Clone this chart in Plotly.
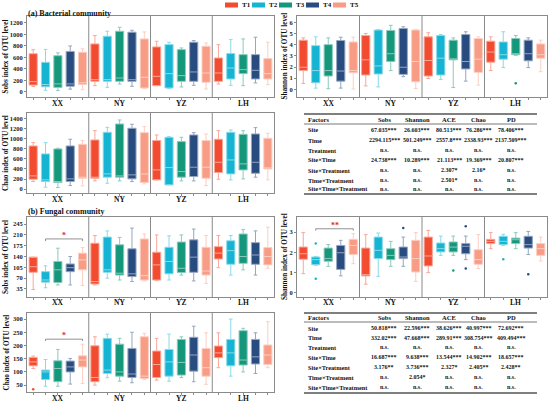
import plotly.graph_objects as go

W, H = 550, 406

# ---------------- data ----------------
SITES = ["XX", "NY", "YZ", "LH"]
TREATMENTS = ["T1", "T2", "T3", "T4", "T5"]

# order of every list: XX T1..T5, NY T1..T5, YZ T1..T5, LH T1..T5
BSOBS_LO = [95, 30, 25, 50, 40, 110, 81, 139, 99, 58, 110, 58, 87, 116, 52, 139, 116, 110, 157, 128]
BSOBS_Q1 = [120, 90, 80, 100, 130, 185, 185, 185, 185, 70, 110, 70, 185, 185, 168, 185, 226, 319, 226, 226]
BSOBS_MED = [180, 130, 140, 140, 160, 214, 214, 243, 214, 255, 272, 319, 284, 348, 330, 330, 417, 388, 377, 319]
BSOBS_Q3 = [665, 515, 630, 705, 690, 835, 968, 1055, 1038, 922, 783, 823, 736, 864, 794, 591, 667, 649, 649, 580]
BSOBS_HI = [735, 740, 680, 800, 750, 980, 1055, 1125, 1072, 1043, 881, 864, 765, 893, 852, 823, 910, 922, 951, 864]

BCHAO_LO = [151, 39, 33, 72, 66, 164, 118, 164, 151, 105, 184, 85, 164, 164, 72, 197, 184, 204, 237, 184]
BCHAO_Q1 = [197, 151, 131, 151, 217, 217, 237, 237, 204, 131, 184, 85, 237, 250, 217, 329, 302, 381, 315, 401]
BCHAO_MED = [263, 184, 151, 204, 237, 237, 302, 263, 283, 302, 381, 427, 348, 434, 434, 532, 578, 500, 532, 420]
BCHAO_Q3 = [854, 697, 795, 854, 887, 973, 1124, 1288, 1203, 1117, 960, 1025, 940, 1071, 960, 986, 1124, 1084, 1091, 1006]
BCHAO_HI = [920, 920, 808, 986, 960, 1157, 1222, 1367, 1282, 1236, 1071, 1038, 1025, 1117, 1091, 1157, 1170, 1157, 1216, 1104]

BSHAN_LO = [0.52, 0.10, 0.05, 0.10, 0.02, 0.30, 0.21, 1.68, 1.13, 0.06, 0.97, 0.88, 0.15, 0.73, 0.37, 1.68, 1.95, 3.05, 1.95, 1.58]
BSHAN_Q1 = [1.68, 0.58, 1.19, 0.73, 1.49, 1.28, 1.37, 2.50, 1.34, 0.67, 1.19, 1.28, 2.65, 1.83, 1.52, 2.44, 2.71, 3.11, 2.56, 2.80]
BSHAN_MED = [1.98, 1.68, 1.68, 1.64, 1.68, 2.65, 2.10, 3.20, 1.98, 2.50, 2.59, 2.80, 2.71, 2.50, 2.71, 3.35, 3.11, 3.20, 3.20, 3.11]
BSHAN_Q3 = [4.42, 3.93, 4.02, 4.39, 4.26, 4.84, 5.33, 5.30, 5.48, 5.33, 4.72, 4.84, 4.42, 4.93, 4.57, 4.33, 4.26, 4.57, 4.42, 4.08]
BSHAN_HI = [4.63, 4.72, 4.63, 4.69, 4.69, 5.03, 5.39, 5.76, 5.63, 5.39, 5.09, 4.93, 4.63, 5.18, 4.72, 4.72, 5.18, 4.84, 4.63, 4.42]

FSOBS_LO = [33, 39, 48, 48, 46, 48, 70, 64, 59, 61, 62, 64, 80, 61, 53, 104, 80, 97, 80, 102]
FSOBS_Q1 = [89, 57, 56, 91, 97, 51, 89, 80, 75, 64, 64, 84, 88, 89, 80, 132, 115, 118, 115, 113]
FSOBS_MED = [107, 64, 97, 104, 129, 59, 97, 86, 84, 78, 113, 124, 102, 138, 93, 151, 159, 140, 145, 140]
FSOBS_Q3 = [138, 91, 124, 116, 151, 183, 203, 178, 165, 197, 154, 170, 187, 194, 170, 172, 191, 213, 185, 169]
FSOBS_HI = [138, 110, 167, 140, 169, 208, 223, 202, 232, 213, 210, 207, 210, 229, 208, 208, 208, 227, 223, 235]

FSHAN_LO = [0.95, 1.36, 1.31, 0.84, 1.44, 0.43, 0.82, 1.31, 1.31, 0.57, 1.00, 1.85, 1.85, 1.64, 1.20, 2.18, 2.34, 2.18, 1.89, 1.57]
FSHAN_Q1 = [1.66, 1.39, 1.56, 1.16, 1.89, 0.84, 1.69, 1.64, 1.69, 1.03, 1.33, 2.02, 2.02, 1.93, 1.41, 2.43, 2.38, 2.43, 2.21, 1.85]
FSHAN_MED = [1.93, 1.64, 1.69, 1.98, 2.34, 0.90, 2.10, 1.85, 1.77, 1.69, 1.82, 2.18, 2.26, 2.30, 1.64, 2.54, 2.54, 2.62, 2.38, 2.18]
FSHAN_Q3 = [2.26, 1.77, 2.21, 2.34, 2.64, 2.21, 2.75, 2.18, 2.26, 2.59, 2.75, 2.46, 2.51, 2.43, 2.13, 2.64, 2.79, 2.70, 2.79, 2.43]
FSHAN_HI = [2.97, 1.80, 2.38, 2.59, 2.92, 2.87, 2.95, 2.54, 2.75, 2.97, 3.08, 2.80, 2.80, 2.80, 2.87, 2.97, 2.89, 2.97, 3.03, 2.75]

FCHAO_LO = [113, 46, 46, 54, 56, 50, 78, 65, 59, 71, 69, 65, 79, 63, 53, 116, 84, 100, 94, 116]
FCHAO_Q1 = [123, 71, 63, 100, 119, 63, 94, 84, 79, 75, 79, 84, 88, 103, 84, 154, 123, 126, 130, 128]
FCHAO_MED = [138, 100, 113, 119, 145, 79, 107, 100, 92, 84, 128, 138, 136, 164, 116, 172, 172, 145, 157, 164]
FCHAO_Q3 = [155, 107, 142, 141, 161, 199, 227, 205, 189, 233, 179, 185, 223, 231, 189, 198, 223, 256, 223, 202]
FCHAO_HI = [160, 147, 185, 151, 205, 233, 243, 227, 250, 246, 227, 243, 233, 273, 248, 248, 300, 265, 248, 290]

# outliers: panel number (1..6), box index (0..19), value
OUT_PANEL = [3, 5, 5, 5, 5, 5, 5, 5, 5, 6]
OUT_INDEX = [17, 1, 1, 8, 12, 13, 13, 16, 18, 0]
OUT_VALUE = [0.55, 2.43, 0.70, 3.20, 1.11, 3.28, 1.20, 1.66, 0.92, 34]

# significance brackets
SIG_PANEL = [4, 5, 6]
SIG_FROM = [1, 1, 1]
SIG_TO = [4, 4, 4]
SIG_Y = [197, 3.16, 224]
SIG_TICK = [190, 3.07, 217]
SIG_LABEL = ["*", "**", "*"]

# ANOVA tables
FACTORS = ["Site", "Time", "Treatment", "Site×Time", "Site×Treatment", "Time×Treatment", "Site×Time×Treatment"]
INDICES = ["Sobs", "Shannon", "ACE", "Chao", "PD"]
BACT_SITE = ["67.035***", "26.603***", "80.513***", "76.286***", "78.406***"]
BACT_TIME = ["2294.115***", "501.249***", "2557.8***", "2338.93***", "2137.509***"]
BACT_TRT = ["n.s.", "n.s.", "n.s.", "n.s.", "n.s."]
BACT_SXT = ["24.738***", "10.289***", "21.113***", "19.369***", "20.807***"]
BACT_SXTR = ["n.s.", "n.s.", "2.307*", "2.16*", "n.s."]
BACT_TXTR = ["n.s.", "n.s.", "2.501*", "n.s.", "n.s."]
BACT_SXTXTR = ["n.s.", "n.s.", "n.s.", "n.s.", "n.s."]
FUNG_SITE = ["50.818***", "22.596***", "38.626***", "40.997***", "72.692***"]
FUNG_TIME = ["332.02***", "47.668***", "289.91***", "308.754***", "409.494***"]
FUNG_TRT = ["n.s.", "n.s.", "n.s.", "n.s.", "n.s."]
FUNG_SXT = ["16.687***", "9.638***", "13.544***", "14.902***", "18.657***"]
FUNG_SXTR = ["3.176**", "3.736***", "2.327*", "2.405**", "2.428**"]
FUNG_TXTR = ["n.s.", "2.054*", "n.s.", "n.s.", "n.s."]
FUNG_SXTXTR = ["n.s.", "n.s.", "n.s.", "n.s.", "n.s."]

# ---------------- styles ----------------
COLORS = ["#F24B30", "#14B4D2", "#14977A", "#284B80", "#F99C85"]
LIGHT = ["#F9A799", "#8ADAE9", "#8ACBBD", "#94A6C0", "#FCCEC2"]
FONT = "Liberation Serif"
FRAME = "#8a8a8a"


def fx(px):
    return px / W


def fy(py):
    return 1 - py / H


def ann(x, y, text, size, xref="paper", yref="paper", xanchor="center", yanchor="middle", **kw):
    d = dict(x=x, y=y, xref=xref, yref=yref, text=text, showarrow=False,
             xanchor=xanchor, yanchor=yanchor,
             font=dict(family=FONT, size=size, color=kw.pop("color", "#111")))
    d.update(kw)
    return d


PANELS = [
    dict(stats=(BSOBS_LO, BSOBS_Q1, BSOBS_MED, BSOBS_Q3, BSOBS_HI), rng=[-87, 1320],
         ticks=[0, 200, 400, 600, 800, 1000, 1200], xpx=(27, 274), ypx=(16, 97),
         title="Sobs index of OTU level", tx=6, lab_y=103.5),
    dict(stats=(BCHAO_LO, BCHAO_Q1, BCHAO_MED, BCHAO_Q3, BCHAO_HI), rng=[-75, 1505],
         ticks=[0, 200, 400, 600, 800, 1000, 1200, 1400], xpx=(27, 274), ypx=(113, 193),
         title="Chao index of OTU level", tx=6, lab_y=199.5),
    dict(stats=(BSHAN_LO, BSHAN_Q1, BSHAN_MED, BSHAN_Q3, BSHAN_HI), rng=[-0.7, 6.6],
         ticks=[0, 1, 2, 3, 4, 5, 6], xpx=(297, 547), ypx=(16, 97),
         title="Shannon index of OTU level", tx=285, lab_y=103.5),
    dict(stats=(FSOBS_LO, FSOBS_Q1, FSOBS_MED, FSOBS_Q3, FSOBS_HI), rng=[9, 268],
         ticks=[35, 70, 105, 140, 175, 210, 245], xpx=(27, 274), ypx=(217, 297),
         title="Sobs index of OTU level", tx=6, lab_y=302.5),
    dict(stats=(FSHAN_LO, FSHAN_Q1, FSHAN_MED, FSHAN_Q3, FSHAN_HI), rng=[-0.2, 3.74],
         ticks=[0, 1, 2, 3], xpx=(297, 547), ypx=(217, 297),
         title="Shannon index of OTU level", tx=285, lab_y=302.5),
    dict(stats=(FCHAO_LO, FCHAO_Q1, FCHAO_MED, FCHAO_Q3, FCHAO_HI), rng=[24, 323],
         ticks=[50, 100, 150, 200, 250, 300], xpx=(27, 274), ypx=(313, 392),
         title="Chao index of OTU level", tx=6, lab_y=398.5),
]

fig = go.Figure()
shapes = []
annotations = []
layout = {}

for p, cfg in enumerate(PANELS, start=1):
    lo, q1, med, q3, hi = cfg["stats"]
    xa = "x" if p == 1 else f"x{p}"
    ya = "y" if p == 1 else f"y{p}"
    for t in range(5):
        idx = [g * 5 + t for g in range(4)]
        fig.add_trace(go.Box(
            x=idx, q1=[q1[i] for i in idx], median=[med[i] for i in idx],
            q3=[q3[i] for i in idx], lowerfence=[lo[i] for i in idx],
            upperfence=[hi[i] for i in idx],
            fillcolor=COLORS[t], line=dict(color=LIGHT[t], width=1),
            width=0.66, whiskerwidth=0.45, boxpoints=False,
            xaxis=xa, yaxis=ya, showlegend=False, hoverinfo="skip"))
        ox = [OUT_INDEX[k] for k in range(len(OUT_PANEL)) if OUT_PANEL[k] == p and OUT_INDEX[k] % 5 == t]
        oy = [OUT_VALUE[k] for k in range(len(OUT_PANEL)) if OUT_PANEL[k] == p and OUT_INDEX[k] % 5 == t]
        if ox:
            fig.add_trace(go.Scatter(x=ox, y=oy, mode="markers",
                                     marker=dict(size=2.5, color=COLORS[t]),
                                     xaxis=xa, yaxis=ya, showlegend=False, hoverinfo="skip"))
    x0, x1 = cfg["xpx"]
    y0, y1 = cfg["ypx"]
    key = "" if p == 1 else str(p)
    layout[f"xaxis{key}"] = dict(
        domain=[fx(x0), fx(x1)], range=[-0.5, 19.5], anchor=ya,
        tickvals=list(range(20)), showticklabels=False, ticks="outside", ticklen=2,
        tickcolor=FRAME, tickwidth=0.6, showline=True, mirror=True, linecolor=FRAME,
        linewidth=1, showgrid=False, zeroline=False)
    layout[f"yaxis{key}"] = dict(
        domain=[fy(y1), fy(y0)], range=cfg["rng"], anchor=xa,
        tickvals=cfg["ticks"], ticks="outside", ticklen=2, tickcolor=FRAME,
        tickfont=dict(family=FONT, size=6.5, color="#222", weight="bold"),
        showline=True, mirror=True, linecolor=FRAME, linewidth=1,
        showgrid=False, zeroline=False)
    for d in (4.5, 9.5, 14.5):
        shapes.append(dict(type="line", xref=xa, yref=f"{ya} domain", x0=d, x1=d, y0=0, y1=1,
                           line=dict(color=FRAME, width=1)))
    for g, s in enumerate(SITES):
        annotations.append(ann(g * 5 + 2, fy(cfg["lab_y"]), f"<b>{s}</b>", 7.5, xref=xa))
    annotations.append(ann(fx(cfg["tx"]), fy((y0 + y1) / 2), f"<b>{cfg['title']}</b>", 7.2,
                           textangle=-90))

# significance brackets
for k in range(len(SIG_PANEL)):
    p = SIG_PANEL[k]
    xa = f"x{p}"
    ya = f"y{p}"
    a, b, yv, yt = SIG_FROM[k], SIG_TO[k], SIG_Y[k], SIG_TICK[k]
    for (xs, xe, ys, ye) in ((a, b, yv, yv), (a, a, yv, yt), (b, b, yv, yt)):
        shapes.append(dict(type="line", xref=xa, yref=ya, x0=xs, x1=xe, y0=ys, y1=ye,
                           line=dict(color="#777", width=0.8)))
    annotations.append(ann((a + b) / 2, yv, f"<b>{SIG_LABEL[k]}</b>", 8, xref=xa, yref=ya,
                           yanchor="bottom", yshift=-3, color="#E02828"))

# panel captions
annotations.append(ann(fx(26), fy(13), "<b>(a) Bacterial community</b>", 8, xanchor="left"))
annotations.append(ann(fx(26), fy(211), "<b>(b) Fungal community</b>", 8, xanchor="left"))

# legend
for t, name in enumerate(TREATMENTS):
    lx = 225 + 27 * t
    shapes.append(dict(type="rect", xref="paper", yref="paper", x0=fx(lx), x1=fx(lx + 13),
                       y0=fy(7.5), y1=fy(2.5), fillcolor=COLORS[t], line=dict(width=0)))
    annotations.append(ann(fx(lx + 15), fy(5), f"<b>{name}</b>", 7, xanchor="left"))

# tables
COL_X = [384, 417, 449, 479, 511]
TABLES = [
    dict(rows=[BACT_SITE, BACT_TIME, BACT_TRT, BACT_SXT, BACT_SXTR, BACT_TXTR, BACT_SXTXTR],
         top=114, hline=124, bottom=194, head=119, rowy=[130, 140, 150, 160, 170, 180, 189]),
    dict(rows=[FUNG_SITE, FUNG_TIME, FUNG_TRT, FUNG_SXT, FUNG_SXTR, FUNG_TXTR, FUNG_SXTXTR],
         top=313, hline=322, bottom=393, head=317.5, rowy=[328, 337.5, 347, 357, 367, 377, 387]),
]
for tb in TABLES:
    for yy, wd in ((tb["top"], 1.3), (tb["hline"], 0.8), (tb["bottom"], 1.3)):
        shapes.append(dict(type="line", xref="paper", yref="paper", x0=fx(304), x1=fx(537),
                           y0=fy(yy), y1=fy(yy), line=dict(color="#555", width=wd)))
    annotations.append(ann(fx(306), fy(tb["head"]), "<b>Factors</b>", 6.5, xanchor="left"))
    for c, name in enumerate(INDICES):
        annotations.append(ann(fx(COL_X[c]), fy(tb["head"]), f"<b>{name}</b>", 6.5))
    for r, fac in enumerate(FACTORS):
        annotations.append(ann(fx(306), fy(tb["rowy"][r]), f"<b>{fac}</b>", 6.3, xanchor="left"))
        for c in range(5):
            annotations.append(ann(fx(COL_X[c]), fy(tb["rowy"][r]), f"<b>{tb['rows'][r][c]}</b>", 6))

fig.update_layout(
    width=W, height=H, margin=dict(l=0, r=0, t=0, b=0),
    paper_bgcolor="white", plot_bgcolor="white", showlegend=False,
    boxmode="overlay", shapes=shapes, annotations=annotations, **layout)

fig.write_html("out.html", config={"displayModeBar": False},
               post_script="document.body.style.margin='0';")
